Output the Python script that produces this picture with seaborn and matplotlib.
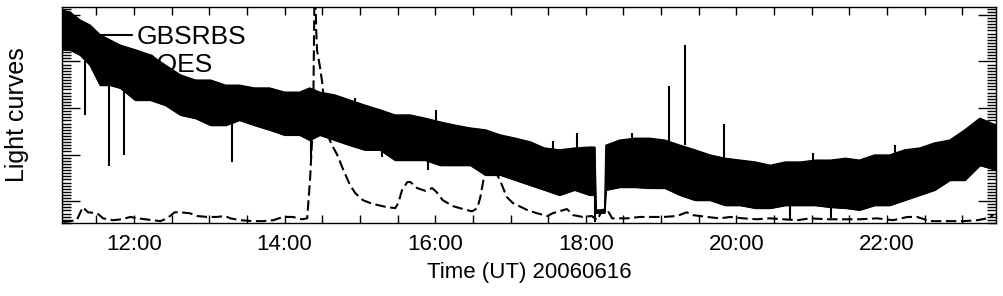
import numpy as np
import pandas as pd
import matplotlib
matplotlib.use("Agg")
import matplotlib.pyplot as plt
import seaborn as sns
from matplotlib.ticker import FixedLocator, MultipleLocator, FuncFormatter
from matplotlib.lines import Line2D

# ---------------- data ----------------
# GBSRBS noisy light curve: envelope (upper / lower edge of the dense band)
band_time = ["11:02", "11:09", "11:17", "11:25", "11:33", "11:41", "11:49", "12:01",
             "12:13", "12:25", "12:37", "12:49", "13:01", "13:13", "13:24", "13:36",
             "13:48", "14:00", "14:12", "14:20", "14:28", "14:40", "14:52", "15:04",
             "15:16", "15:28", "15:40", "15:52", "16:04", "16:16", "16:28", "16:40",
             "16:52", "17:04", "17:16", "17:27", "17:39", "17:51", "18:03", "18:07",
             "18:08", "18:15", "18:16", "18:27", "18:39", "18:51", "19:03", "19:15",
             "19:27", "19:39", "19:51", "20:03", "20:15", "20:27", "20:39", "20:51",
             "21:03", "21:15", "21:27", "21:38", "21:50", "22:02", "22:14", "22:26",
             "22:38", "22:50", "23:02", "23:14", "23:27"]
band_high = [5.11, 5.06, 4.89, 4.78, 4.57, 4.46, 4.35, 4.25,
             4.14, 3.92, 3.71, 3.60, 3.60, 3.49, 3.49, 3.43,
             3.43, 3.34, 3.34, 3.43, 3.34, 3.28, 3.17, 3.06,
             2.96, 2.85, 2.85, 2.78, 2.70, 2.63, 2.57, 2.53,
             2.42, 2.35, 2.27, 2.14, 2.10, 2.14, 2.16, 2.16,
             0.81, 0.81, 2.20, 2.31, 2.35, 2.35, 2.31, 2.20,
             2.10, 1.99, 1.92, 1.88, 1.84, 1.77, 1.84, 1.84,
             1.88, 1.88, 1.92, 1.88, 1.99, 1.99, 2.10, 2.14,
             2.25, 2.31, 2.53, 2.78, 2.63]
band_low = [4.25, 4.25, 4.14, 3.92, 3.49, 3.49, 3.43, 3.17,
            3.17, 3.06, 2.85, 2.78, 2.63, 2.63, 2.74, 2.63,
            2.53, 2.42, 2.42, 2.31, 2.42, 2.31, 2.20, 2.10,
            2.10, 1.88, 1.88, 1.88, 1.77, 1.77, 1.77, 1.56,
            1.56, 1.45, 1.34, 1.24, 1.13, 1.24, 1.13, 1.13,
            0.75, 0.75, 1.24, 1.30, 1.30, 1.28, 1.28, 1.13,
            1.02, 1.02, 0.91, 0.91, 0.85, 0.85, 0.91, 0.91,
            0.91, 0.87, 0.85, 0.81, 0.91, 0.91, 1.02, 1.13,
            1.24, 1.45, 1.45, 1.77, 1.67]

# isolated GBSRBS spikes: time, start level, end level
spike_time = ["11:21", "11:40", "11:52", "13:18", "14:21", "18:07",
              "17:34", "17:53", "19:06", "19:19", "19:50",
              "14:43", "14:56", "16:01", "18:37", "21:01", "22:06",
              "15:18", "15:54", "20:43", "21:15"]
spike_from = [4.00, 3.50, 3.40, 2.70, 2.40, 1.50,
              2.10, 2.10, 2.30, 2.20, 1.90,
              2.90, 2.90, 2.60, 2.20, 1.80, 1.90,
              2.20, 1.90, 0.90, 0.90]
spike_to = [2.85, 1.75, 1.99, 1.84, 1.95, 0.55,
            2.29, 2.46, 3.47, 4.35, 2.66,
            3.24, 3.22, 2.96, 2.46, 2.03, 2.20,
            1.95, 1.67, 0.61, 0.63]

# GOES light curve (dashed)
goes_hour = [11.06, 11.24, 11.32, 11.39, 11.51, 11.59, 11.72, 11.84, 11.95, 12.05,
             12.15, 12.25, 12.35, 12.44, 12.54, 12.61, 12.74, 12.84, 12.97, 13.10,
             13.21, 13.28, 13.41, 13.58, 13.71, 13.85, 13.98, 14.11, 14.23, 14.30,
             14.34, 14.38, 14.40, 14.42, 14.43, 14.47, 14.50, 14.56, 14.63, 14.70,
             14.78, 14.87, 14.94, 15.04, 15.17, 15.36, 15.47, 15.51, 15.56, 15.63,
             15.67, 15.76, 15.87, 15.96, 16.02, 16.10, 16.24, 16.37, 16.49, 16.56,
             16.60, 16.64, 16.69, 16.77, 16.86, 16.95, 17.03, 17.22, 17.35, 17.49,
             17.56, 17.75, 17.83, 17.96, 18.08, 18.15, 18.22, 18.28, 18.35, 18.55,
             18.72, 18.85, 19.03, 19.21, 19.34, 19.42, 19.61, 19.78, 19.92, 20.09,
             20.27, 20.45, 20.62, 20.81, 20.98, 21.20, 21.42, 21.64, 21.87, 22.08,
             22.27, 22.40, 22.57, 22.80, 23.01, 23.20, 23.33, 23.41]
goes_value = [0.55, 0.59, 0.87, 0.76, 0.74, 0.63, 0.59, 0.61, 0.66, 0.63,
              0.61, 0.59, 0.57, 0.63, 0.76, 0.76, 0.74, 0.68, 0.66, 0.66,
              0.68, 0.63, 0.59, 0.57, 0.57, 0.59, 0.66, 0.66, 0.61, 0.63,
              1.52, 2.81, 6.00, 4.68, 4.25, 3.88, 3.54, 2.46, 2.20, 1.99,
              1.67, 1.34, 1.17, 1.02, 0.94, 0.87, 0.85, 0.96, 1.24, 1.41,
              1.41, 1.28, 1.22, 1.28, 1.19, 1.02, 0.89, 0.83, 0.78, 0.85,
              1.09, 1.45, 1.67, 1.73, 1.45, 1.09, 0.96, 0.81, 0.74, 0.68,
              0.74, 0.83, 0.70, 0.66, 0.68, 0.59, 0.81, 0.83, 0.63, 0.63,
              0.66, 0.66, 0.66, 0.68, 0.76, 0.70, 0.66, 0.63, 0.66, 0.63,
              0.61, 0.63, 0.61, 0.59, 0.63, 0.61, 0.61, 0.61, 0.63, 0.59,
              0.66, 0.66, 0.57, 0.57, 0.57, 0.59, 0.63, 0.70]

series_names = ["GBSRBS", "GOES"]
x_label = "Time (UT) 20060616"
y_label = "Light curves"


def to_hours(s):
    h, m = s.split(":")
    return int(h) + int(m) / 60.0


band = pd.DataFrame({"t": [to_hours(s) for s in band_time],
                     "hi": band_high, "lo": band_low})
spikes = pd.DataFrame({"t": [to_hours(s) for s in spike_time],
                       "a": spike_from, "b": spike_to})
goes = pd.DataFrame({"t": goes_hour, "v": goes_value})

# ---------------- plot ----------------
sns.set_style("ticks")
plt.rcParams["font.family"] = ["Liberation Sans", "DejaVu Sans"]
plt.rcParams["text.color"] = "black"
plt.rcParams["axes.labelcolor"] = "black"
plt.rcParams["xtick.color"] = "black"
plt.rcParams["ytick.color"] = "black"
plt.rcParams["xtick.labelcolor"] = "black"

fig = plt.figure(figsize=(10.04, 2.96), dpi=100)
ax = fig.add_axes([62 / 1004, 1 - 223 / 296, (996 - 62) / 1004, (223 - 7) / 296])

# GOES dashed
sns.lineplot(data=goes, x="t", y="v", ax=ax, color="black", lw=1.5,
             linestyle=(0, (5, 2.2)), zorder=3)
# GBSRBS band
ax.fill_between(band["t"], band["lo"], band["hi"], color="black", lw=0.8,
                edgecolor="black", zorder=4)
sns.lineplot(data=band, x="t", y="hi", ax=ax, color="black", lw=1.0, zorder=4)
sns.lineplot(data=band, x="t", y="lo", ax=ax, color="black", lw=1.0, zorder=4)
ax.vlines(spikes["t"], spikes["a"], spikes["b"], color="black", lw=1.5, zorder=4)

ax.set_xlim(11.044, 23.447)
ax.set_ylim(0.53, 5.17)

# ticks
ax.xaxis.set_major_locator(MultipleLocator(0.5))


def fmt(x, pos):
    r = round(x)
    if abs(x - r) < 1e-6 and r % 2 == 0:
        return f"{int(r):02d}:00"
    return ""


ax.xaxis.set_major_formatter(FuncFormatter(fmt))
ax.yaxis.set_major_locator(FixedLocator([1, 2, 3, 4, 5]))
ax.yaxis.set_minor_locator(MultipleLocator(1 / 15))
ax.set_yticklabels([])
ax.tick_params(axis="x", which="major", direction="in", length=6, width=1.0,
               top=True, bottom=True, labelsize=16, pad=8,
               colors="black", labelcolor="black")
ax.tick_params(axis="y", which="major", direction="in", length=13, width=1.0,
               left=True, right=True, colors="black")
ax.tick_params(axis="y", which="minor", direction="in", length=6.5, width=1.0,
               left=True, right=True, colors="black")
for s in ax.spines.values():
    s.set_linewidth(1.0)
    s.set_color("black")

ax.set_xlabel(x_label, fontsize=16, labelpad=5, color="black")
ax.set_ylabel(y_label, fontsize=18, labelpad=20, color="black")

handles = [Line2D([], [], color="black", lw=1.5),
           Line2D([], [], color="black", lw=1.5, linestyle=(0, (5, 2.2)))]
leg = ax.legend(handles, series_names, loc="upper left",
                bbox_to_anchor=(0.035, 0.915), frameon=False, fontsize=19,
                handlelength=1.4, handletextpad=0.2, labelspacing=0.12,
                borderpad=0, borderaxespad=0)
for t in leg.get_texts():
    t.set_color("black")
leg.set_zorder(1)

fig.savefig("out.png", dpi=100)
